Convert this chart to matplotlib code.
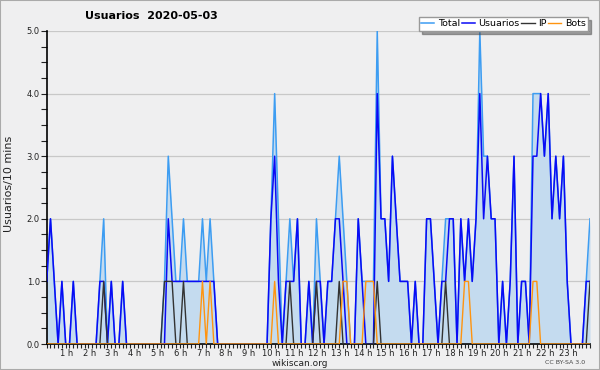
import numpy as np
import matplotlib
matplotlib.use("Agg")
from matplotlib import pyplot as plt
from matplotlib.patches import Rectangle
from matplotlib.ticker import MultipleLocator, FixedLocator, FixedFormatter
import matplotlib.transforms as mtransforms

# one value per 10 minutes, 144 slots for the day
usuarios = [1, 2, 1, 0, 1, 0, 0, 1, 0, 0, 0, 0, 0, 0, 1, 1, 0, 1, 0, 0, 1, 0, 0, 0,
            0, 0, 0, 0, 0, 0, 0, 0, 2, 1, 1, 1, 1, 1, 1, 1, 1, 1, 1, 1, 1, 0, 0, 0,
            0, 0, 0, 0, 0, 0, 0, 0, 0, 0, 0, 2, 3, 1, 0, 1, 1, 1, 2, 0, 0, 1, 0, 1,
            1, 0, 1, 1, 2, 2, 1, 0, 0, 0, 2, 1, 0, 0, 0, 4, 2, 2, 1, 3, 2, 1, 1, 1,
            0, 1, 0, 0, 2, 2, 1, 0, 1, 1, 2, 2, 0, 2, 1, 2, 1, 2, 4, 2, 3, 2, 2, 0,
            1, 0, 1, 3, 0, 1, 1, 0, 3, 3, 4, 3, 4, 2, 3, 2, 3, 1, 0, 0, 0, 0, 1, 1]
ip = [0, 0, 0, 0, 0, 0, 0, 0, 0, 0, 0, 0, 0, 0, 0, 1, 0, 0, 0, 0, 0, 0, 0, 0,
      0, 0, 0, 0, 0, 0, 0, 1, 1, 1, 0, 0, 1, 0, 0, 0, 0, 0, 0, 0, 0, 0, 0, 0,
      0, 0, 0, 0, 0, 0, 0, 0, 0, 0, 0, 0, 0, 0, 0, 0, 1, 0, 0, 0, 0, 0, 0, 1,
      0, 0, 0, 0, 0, 1, 0, 0, 0, 0, 0, 0, 0, 0, 0, 1, 0, 0, 0, 0, 0, 0, 0, 0,
      0, 0, 0, 0, 0, 0, 0, 0, 0, 1, 0, 0, 0, 0, 0, 0, 0, 0, 0, 0, 0, 0, 0, 0,
      0, 0, 0, 0, 0, 0, 0, 0, 0, 0, 0, 0, 0, 0, 0, 0, 0, 0, 0, 0, 0, 0, 0, 1]
bots = [0, 0, 0, 0, 0, 0, 0, 0, 0, 0, 0, 0, 0, 0, 0, 0, 0, 0, 0, 0, 0, 0, 0, 0,
        0, 0, 0, 0, 0, 0, 0, 0, 0, 0, 0, 0, 0, 0, 0, 0, 0, 1, 0, 1, 0, 0, 0, 0,
        0, 0, 0, 0, 0, 0, 0, 0, 0, 0, 0, 0, 1, 0, 0, 0, 0, 0, 0, 0, 0, 0, 0, 0,
        0, 0, 0, 0, 0, 0, 1, 1, 0, 0, 0, 0, 1, 1, 1, 0, 0, 0, 0, 0, 0, 0, 0, 0,
        0, 0, 0, 0, 0, 0, 0, 0, 0, 0, 0, 0, 0, 0, 1, 1, 0, 0, 0, 0, 0, 0, 0, 0,
        0, 0, 0, 0, 0, 0, 0, 0, 1, 1, 0, 0, 0, 0, 0, 0, 0, 0, 0, 0, 0, 0, 0, 0]
total = [1, 2, 1, 0, 1, 0, 0, 1, 0, 0, 0, 0, 0, 0, 1, 2, 0, 1, 0, 0, 1, 0, 0, 0,
         0, 0, 0, 0, 0, 0, 0, 1, 3, 2, 1, 1, 2, 1, 1, 1, 1, 2, 1, 2, 1, 0, 0, 0,
         0, 0, 0, 0, 0, 0, 0, 0, 0, 0, 0, 2, 4, 2, 0, 1, 2, 1, 2, 0, 0, 1, 0, 2,
         1, 0, 1, 1, 2, 3, 2, 1, 0, 0, 2, 1, 1, 1, 1, 5, 2, 2, 1, 3, 2, 1, 1, 1,
         0, 1, 0, 0, 2, 2, 1, 0, 1, 2, 2, 2, 0, 2, 1, 2, 1, 2, 5, 3, 3, 2, 2, 0,
         1, 0, 1, 3, 0, 1, 1, 0, 4, 4, 4, 3, 4, 2, 3, 2, 3, 1, 0, 0, 0, 0, 1, 2]
hour_labels = ["%d h" % h for h in range(1, 24)]

bg = "#efeff0"
fig = plt.figure(figsize=(6, 3.7), dpi=100, facecolor=bg)
ax = fig.add_axes([46.7 / 600, 1 - 344 / 370, (590 - 46.7) / 600, 313 / 370])
ax.set_facecolor(bg)

x = np.arange(len(total))
ax.fill_between(x, total, 0, color="#c4dbef", lw=0, zorder=1)
ax.plot(x, total, color="#3d9df2", lw=1.1, label="Total", zorder=2)
ax.plot(x, usuarios, color="#0a0af5", lw=1.1, label="Usuarios", zorder=3)
ax.plot(x, ip, color="#333333", lw=1.0, label="IP", zorder=4)
ax.plot(x, bots, color="#ff9410", lw=1.0, label="Bots", zorder=5)

ax.set_xlim(0, len(total) - 1)
ax.set_ylim(0, 5)
for s in ["top", "right"]:
    ax.spines[s].set_visible(False)
ax.spines["left"].set_linewidth(1.2)
ax.spines["bottom"].set_linewidth(1.2)

ax.set_yticks(range(6))
ax.set_yticklabels(["%.1f" % v for v in range(6)])
ax.yaxis.set_minor_locator(MultipleLocator(0.25))
ax.grid(axis="y", color="#c8c8c8", lw=0.9, zorder=0)
ax.set_axisbelow(True)

ax.xaxis.set_major_locator(FixedLocator([6 * h for h in range(1, 24)]))
ax.xaxis.set_major_formatter(FixedFormatter(hour_labels))
ax.xaxis.set_minor_locator(MultipleLocator(1))
ax.tick_params(axis="x", which="both", length=3, width=0.8, pad=0.3, labelsize=6, colors="#222222")
ax.tick_params(axis="y", which="both", length=4, width=0.8, pad=1, labelsize=6, colors="#222222")
off = mtransforms.ScaledTranslation(-3 / 100, 0, fig.dpi_scale_trans)
for lab in ax.get_xticklabels():
    lab.set_transform(lab.get_transform() + off)

fig.text(151 / 600, 1 - 16 / 370, "Usuarios  2020-05-03", ha="center", va="center",
         fontsize=8, fontweight="bold")
fig.text(9 / 600, 1 - 184 / 370, "Usuarios/10 mins", rotation=90, ha="center", va="center",
         fontsize=8, color="#222222")
fig.text(0.5, 1 - 363 / 370, "wikiscan.org", ha="center", va="center", fontsize=6.5, color="#222222")
fig.text(565 / 600, 1 - 363 / 370, "CC BY-SA 3.0", ha="center", va="center", fontsize=4.5, color="#444444")

leg = fig.legend(loc="upper right", bbox_to_anchor=(588 / 600, 1 - 17 / 370), ncol=4,
                 fontsize=6.8, frameon=True, fancybox=False, shadow=True, handlelength=1.4,
                 handletextpad=0.35, columnspacing=0.2, borderpad=0.25, borderaxespad=0)
leg.get_frame().set_edgecolor("#999999")
leg.get_frame().set_linewidth(1.0)

fig.patches.append(Rectangle((0, 0), 1, 1, transform=fig.transFigure, fill=False,
                             edgecolor="#aaaaaa", lw=1.5))

fig.savefig("out.png", dpi=100, facecolor=bg)
